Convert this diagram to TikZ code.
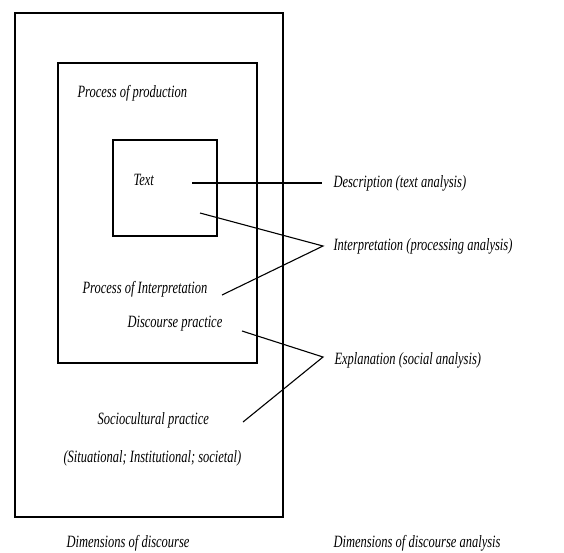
\documentclass[tikz,border=0pt]{standalone}
\usepackage{fontspec}
\usepackage{graphicx}
\setmainfont{Liberation Serif}
\newcommand{\tall}[1]{\scalebox{1}[1.38]{#1}}
\begin{document}
\begin{tikzpicture}[x=1pt, y=-1pt, line width=1.1pt,
    lbl/.style={font=\fontsize{12.5}{15}\selectfont\itshape, inner sep=0pt, anchor=west}]
    \useasboundingbox (0,0) rectangle (564,552);
    % the three nested boxes
    \draw [line width=1.4pt] (15,13) rectangle (283,517);
    \draw [line width=1.4pt] (58,63) rectangle (257,363);
    \draw [line width=1.4pt] (113,140) rectangle (217,236);
    % labels inside the boxes
    \node [lbl] (prod) at (77,93) {\tall{Process of production}};
    \node [lbl] (txt) at (133,180) {\tall{Text}};
    \node [lbl] (interp) at (82,289) {\tall{Process of Interpretation}};
    \node [lbl] (dp) at (127,324) {\tall{Discourse practice}};
    \node [lbl] (scp) at (97,420) {\tall{Sociocultural practice}};
    \node [lbl] (sit) at (63,458) {\tall{(Situational; Institutional; societal)}};
    \node [lbl] (dimd) at (66,543) {\tall{Dimensions of discourse}};
    % labels on the right
    \node [lbl] (desc) at (333,183) {\tall{Description (text analysis)}};
    \node [lbl] (inta) at (333,246) {\tall{Interpretation (processing analysis)}};
    \node [lbl] (expl) at (334,360) {\tall{Explanation (social analysis)}};
    \node [lbl] (dima) at (333,543) {\tall{Dimensions of discourse analysis}};
    % connectors
    \coordinate (d1) at (192,183);
    \coordinate (d2) at (322,183);
    \coordinate (i1) at (200,213);
    \coordinate (i2) at (323,246);
    \coordinate (i3) at (222,295);
    \coordinate (e1) at (242,331);
    \coordinate (e2) at (323,357);
    \coordinate (e3) at (243,422);
    \draw (d1)--(d2);
    \draw (i1)--(i2)--(i3);
    \draw (e1)--(e2)--(e3);
\end{tikzpicture}
\end{document}
